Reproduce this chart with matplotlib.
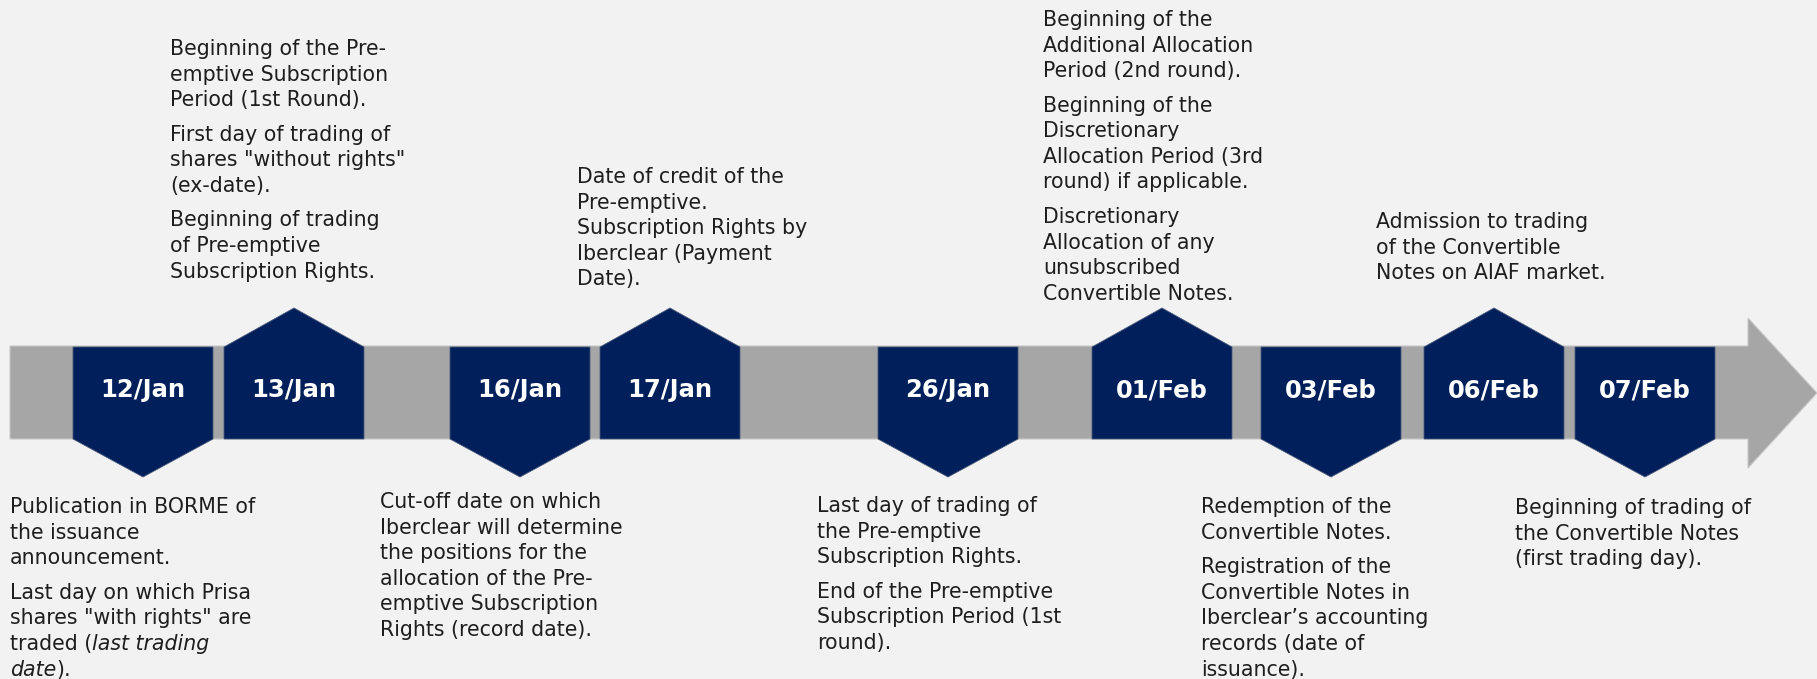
import matplotlib
matplotlib.use("Agg")
import matplotlib.pyplot as plt
from matplotlib.patches import Polygon

# ===============================
# DATA
# ===============================
dates = ["12/Jan", "13/Jan", "16/Jan", "17/Jan", "26/Jan",
         "01/Feb", "03/Feb", "06/Feb", "07/Feb"]
sides = ["down", "up", "down", "up", "down", "up", "down", "up", "down"]

# each note: list of paragraphs, each paragraph a list of lines (*...* = italic)
notes = [
    [["Publication in BORME of", "the issuance", "announcement."],
     ["Last day on which Prisa", "shares \"with rights\" are",
      "traded (*last trading*", "*date*)."]],
    [["Beginning of the Pre-", "emptive Subscription", "Period (1st Round)."],
     ["First day of trading of", "shares \"without rights\"", "(ex-date)."],
     ["Beginning of trading", "of Pre-emptive", "Subscription Rights."]],
    [["Cut-off date on which", "Iberclear will determine", "the positions for the",
      "allocation of the Pre-", "emptive Subscription", "Rights (record date)."]],
    [["Date of credit of the", "Pre-emptive.", "Subscription Rights by",
      "Iberclear (Payment", "Date)."]],
    [["Last day of trading of", "the Pre-emptive", "Subscription Rights."],
     ["End of the Pre-emptive", "Subscription Period (1st", "round)."]],
    [["Beginning of the", "Additional Allocation", "Period (2nd round)."],
     ["Beginning of the", "Discretionary", "Allocation Period (3rd",
      "round) if applicable."],
     ["Discretionary", "Allocation of any", "unsubscribed", "Convertible Notes."]],
    [["Redemption of the", "Convertible Notes."],
     ["Registration of the", "Convertible Notes in", "Iberclear\u2019s accounting",
      "records (date of", "issuance)."]],
    [["Admission to trading", "of the Convertible", "Notes on AIAF market."]],
    [["Beginning of trading of", "the Convertible Notes", "(first trading day)."]],
]

# ===============================
# LAYOUT (pixels)
# ===============================
W, H = 1817, 679
box_left = [73, 224, 450, 600, 878, 1092, 1261, 1424, 1575]
box_w = 140
box_top, box_bot = 347, 439
tip_up, tip_down = 308, 477
note_x = [10, 170, 380, 577, 817, 1043, 1201, 1376, 1515]
note_y = [513, 55, 508, 183, 512, 26, 513, 228, 514]
line_pitch = 25.6
para_pitch = 34.5

BG = "#F2F2F2"
GREY = "#A6A6A6"
NAVY = "#001F5B"
INK = "#1E1E1E"
FONT = "DejaVu Sans"
BODY_SIZE = 14.8

fig = plt.figure(figsize=(W / 100, H / 100), dpi=100, facecolor=BG)
ax = fig.add_axes([0, 0, 1, 1])
ax.set_xlim(0, W)
ax.set_ylim(H, 0)
ax.axis("off")
ax.set_facecolor(BG)

# arrow bar
ax.add_patch(Polygon([(10, 346), (1748, 346), (1748, 318), (1817, 393),
                      (1748, 468), (1748, 439), (10, 439)],
                     closed=True, facecolor=GREY, edgecolor="#C8C8C8", lw=0.8))

# date boxes
for d, s, x0 in zip(dates, sides, box_left):
    cx = x0 + box_w / 2
    if s == "up":
        pts = [(x0, box_bot), (x0, box_top), (cx, tip_up),
               (x0 + box_w, box_top), (x0 + box_w, box_bot)]
    else:
        pts = [(x0, box_top), (x0 + box_w, box_top), (x0 + box_w, box_bot),
               (cx, tip_down), (x0, box_bot)]
    ax.add_patch(Polygon(pts, closed=True, facecolor=NAVY, edgecolor="#4A5A7A", lw=0.6))
    ax.text(cx, 397, d, color="white", fontsize=17.5, fontweight="bold",
            family=FONT, ha="center", va="baseline")

# notes
renderer = fig.canvas.get_renderer()


def draw_line(x, y, line):
    parts = line.split("*")
    for i, part in enumerate(parts):
        if not part:
            continue
        t = ax.text(x, y, part, fontsize=BODY_SIZE, family=FONT, color=INK,
                    style="italic" if i % 2 else "normal",
                    ha="left", va="baseline")
        bb = t.get_window_extent(renderer=renderer)
        x += bb.width


for paras, x, y in zip(notes, note_x, note_y):
    for p, para in enumerate(paras):
        if p > 0:
            y += para_pitch - line_pitch
        for line in para:
            draw_line(x, y, line)
            y += line_pitch

fig.savefig("out.png", dpi=100, facecolor=BG)
